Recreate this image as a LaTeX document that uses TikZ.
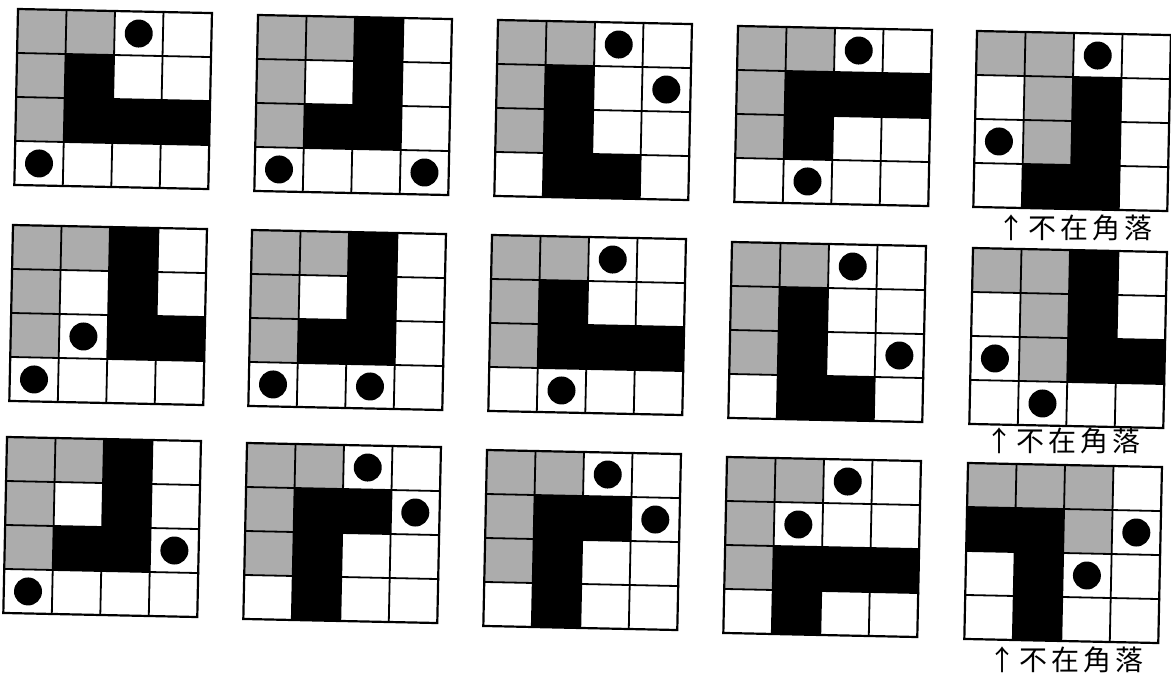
\documentclass[tikz,border=0pt]{standalone}
\usepackage{fontspec}
\newfontfamily\cjk{Noto Sans CJK TC}
\definecolor{cellgray}{RGB}{172,172,172}
\tikzset{
  cellG/.style={fill=cellgray},
  cellB/.style={fill=black},
  cellW/.style={fill=white},
  cellD/.style={fill=white, path picture={\fill[black] (path picture bounding box.center) circle (14pt);}},
  gridline/.style={line width=1.8pt, line cap=rect},
  note/.style={anchor=west, font=\cjk\fontsize{28}{28}\selectfont, inner sep=0pt},
}
\newcommand\cellgrid[3]{% x y codes
  \begin{scope}[shift={(#1,-#2)}, rotate=-1.2]
    \foreach \t [count=\i from 0] in {#3} {
      \pgfmathtruncatemacro\cellrow{\i/4}
      \pgfmathtruncatemacro\cellcol{mod(\i,4)}
      \path[cell\t] (\cellcol*48.5, -\cellrow*44) rectangle ++(48.5,-44);
    }
    \foreach \k in {1,2,3} {
      \draw[gridline] (\k*48.5,0) -- (\k*48.5,-176);
      \draw[gridline] (0,-\k*44) -- (194,-\k*44);
    }
    \draw[gridline, line width=2.2pt] (0,0) rectangle (194,-176);
  \end{scope}}
\begin{document}
\begin{tikzpicture}[x=1pt,y=1pt]
\useasboundingbox (0,0) rectangle (1171,-680);
\fill[white] (0,0) rectangle (1171,-680);
% row 1
\cellgrid{18}{9}{G,G,D,W, G,B,W,W, G,B,B,B, D,W,W,W}
\cellgrid{258}{15}{G,G,B,W, G,W,B,W, G,B,B,W, D,W,W,D}
\cellgrid{498}{20}{G,G,D,W, G,B,W,D, G,B,W,W, W,B,B,W}
\cellgrid{738}{26}{G,G,D,W, G,B,B,B, G,B,W,W, W,D,W,W}
\cellgrid{977}{31}{G,G,D,W, W,G,B,W, D,G,B,W, W,B,B,W}
% row 2
\cellgrid{13}{225}{G,G,B,W, G,W,B,W, G,D,B,B, D,W,W,W}
\cellgrid{252}{230}{G,G,B,W, G,W,B,W, G,B,B,W, D,W,D,W}
\cellgrid{492}{235}{G,G,D,W, G,B,W,W, G,B,B,B, W,D,W,W}
\cellgrid{732}{242}{G,G,D,W, G,B,W,W, G,B,W,D, W,B,B,W}
\cellgrid{973}{248}{G,G,B,W, W,G,B,W, D,G,B,B, W,D,W,W}
% row 3
\cellgrid{7}{437}{G,G,B,W, G,W,B,W, G,B,B,D, D,W,W,W}
\cellgrid{247}{443}{G,G,D,W, G,B,B,D, G,B,W,W, W,B,W,W}
\cellgrid{487}{450}{G,G,D,W, G,B,B,D, G,B,W,W, W,B,W,W}
\cellgrid{727}{457}{G,G,D,W, G,D,W,W, G,B,B,B, W,B,W,W}
\cellgrid{968}{463}{G,G,G,W, B,B,G,D, W,B,D,W, W,B,W,W}
% labels
\node[note] (lab1) at (997,-228) {↑\kern3pt 不\kern4pt 在\kern4pt 角\kern4pt 落};
\node[note] (lab2) at (985,-441) {↑\kern3pt 不\kern4pt 在\kern4pt 角\kern4pt 落};
\node[note] (lab3) at (988,-660) {↑\kern3pt 不\kern4pt 在\kern4pt 角\kern4pt 落};
\end{tikzpicture}
\end{document}
